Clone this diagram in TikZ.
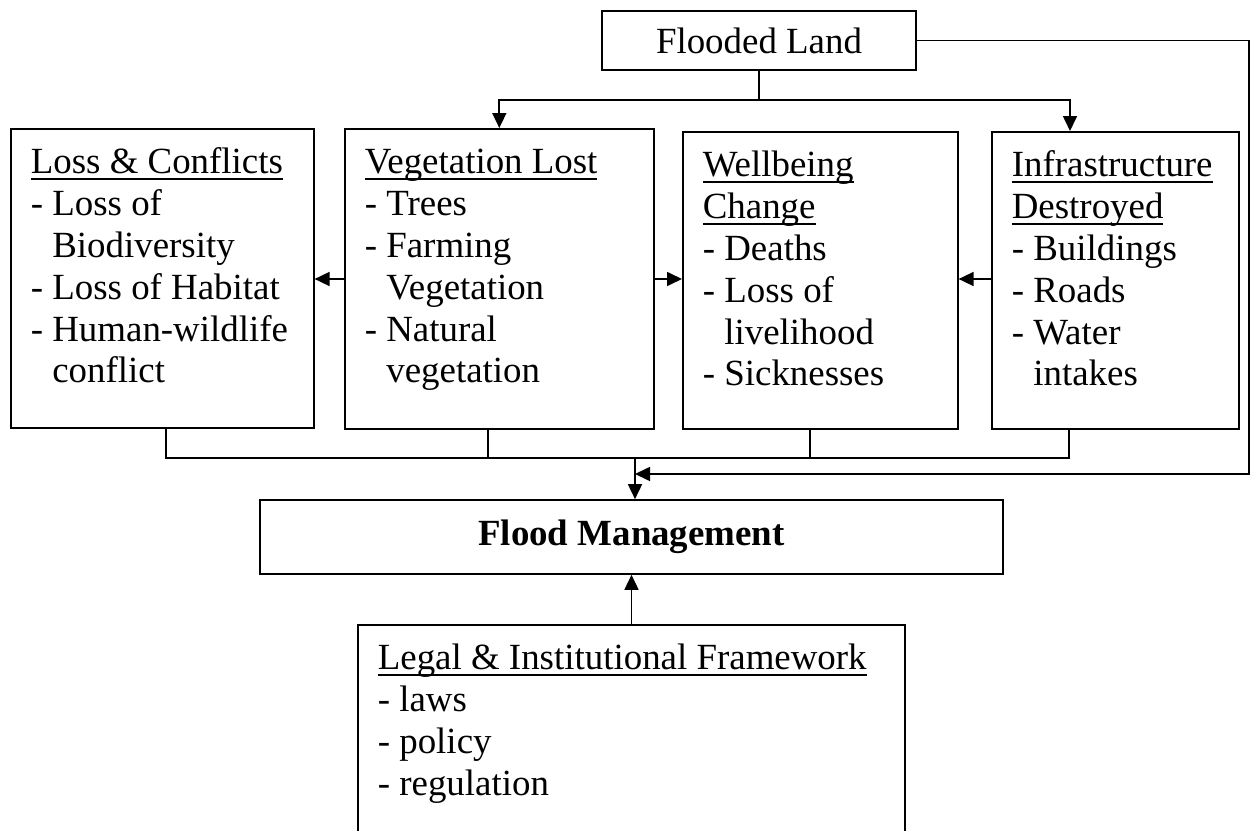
\documentclass[tikz,border=0pt]{standalone}
\usepackage{fontspec}
\setmainfont{Liberation Serif}
\usepackage{tikz}
\usetikzlibrary{calc,arrows.meta}
\newcommand{\uhead}[1]{\setbox0=\hbox{#1}\rlap{\rule[-3.6pt]{\wd0}{1.1pt}}\box0}
\newcommand{\hangpad}{\phantom{- }}
\newcommand{\cellbox}[3]{\parbox[t][#2][t]{#1}{\vspace*{0.314cm}\strut#3}}
\tikzset{every node/.style={font=\fontsize{21pt}{23.8pt}\selectfont},
  panel/.style={draw,line width=0.95pt,anchor=north west,inner xsep=0.4cm,inner ysep=0pt},
  tag/.style={draw,line width=0.95pt,inner sep=0pt},
  link/.style={line width=0.95pt},
  arr/.style={link,-{Triangle[length=0.3cm,width=0.28cm]}}}
\begin{document}
\begin{tikzpicture}[x=0.02cm,y=-0.02cm]
\path[use as bounding box] (0,0) rectangle (1251,831);
\clip (0,0) rectangle (1251,831);
\node[tag,minimum width=6.28cm,minimum height=1.18cm] (flooded) at (759,40.5) {Flooded Land};
\node[panel] (loss) at (10,128) {\cellbox{5.26cm}{5.98cm}{\uhead{Loss \& Conflicts}\\- Loss of\\\hangpad Biodiversity\\- Loss of Habitat\\- Human-wildlife\\\hangpad conflict}};
\node[panel] (veg) at (344,128) {\cellbox{5.38cm}{6cm}{\uhead{Vegetation Lost}\\- Trees\\- Farming\\\hangpad Vegetation\\- Natural\\\hangpad vegetation}};
\node[panel] (well) at (682,131) {\cellbox{4.7cm}{5.94cm}{\uhead{Wellbeing}\\\uhead{Change}\\- Deaths\\- Loss of\\\hangpad livelihood\\- Sicknesses}};
\node[panel] (infra) at (991,131) {\cellbox{4.14cm}{5.94cm}{\uhead{Infrastructure}\\\uhead{Destroyed}\\- Buildings\\- Roads\\- Water\\\hangpad intakes}};
\node[tag,minimum width=14.86cm,minimum height=1.48cm] (mgmt) at (631.5,537) {\textbf{Flood Management}};
\node[panel] (legal) at (357,624) {\cellbox{10.14cm}{6cm}{\uhead{Legal \& Institutional Framework}\\- laws\\- policy\\- regulation}};
\coordinate (fork) at (759,100); \coordinate (midrow) at (0,279);
\coordinate (dropA) at (166,458); \coordinate (dropB) at (488,458); \coordinate (dropC) at (810,458); \coordinate (dropD) at (1069,458);
\coordinate (loopturn) at (1249,474); \coordinate (inlet) at (635,0);
\draw[link] (flooded.south) -- (fork);
\draw[arr] (fork) -| (veg.north);
\draw[arr] (fork) -| ($(infra.north west)+(79,0)$);
\draw[arr] (veg.west |- midrow) -- (loss.east |- midrow);
\draw[arr] (veg.east |- midrow) -- (well.west |- midrow);
\draw[arr] (infra.west |- midrow) -- (well.east |- midrow);
\draw[link] (loss.south -| dropA) -- (dropA) -- (dropD) -- (infra.south -| dropD);
\draw[link] (veg.south -| dropB) -- (dropB);
\draw[link] (well.south -| dropC) -- (dropC);
\draw[arr] (dropA -| inlet) -- (mgmt.north -| inlet);
\draw[arr] (flooded.east) -| (loopturn) -- (loopturn -| inlet);
\draw[arr] (legal.north -| mgmt.south) -- (mgmt.south);
\end{tikzpicture}
\end{document}
